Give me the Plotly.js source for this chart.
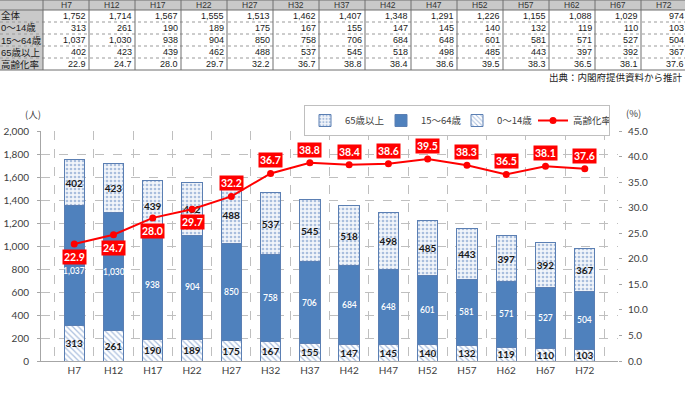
<!DOCTYPE html>
<html>
<head>
<meta charset="utf-8">
<script src="https://cdn.plot.ly/plotly-3.0.1.min.js"></script>
<style>
  html, body { margin: 0; padding: 0; background: #ffffff; }
  #chart { width: 685px; height: 398px; }
</style>
</head>
<body>
<div id="chart"></div>
<script>
// Population by age group (persons) and aging rate (%)
const years = ['H7', 'H12', 'H17', 'H22', 'H27', 'H32', 'H37', 'H42', 'H47', 'H52', 'H57', 'H62', 'H67', 'H72'];
const totals = [1752, 1714, 1567, 1555, 1513, 1462, 1407, 1348, 1291, 1226, 1155, 1088, 1029, 974];
const age0to14 = [313, 261, 190, 189, 175, 167, 155, 147, 145, 140, 132, 119, 110, 103];
const age15to64 = [1037, 1030, 938, 904, 850, 758, 706, 684, 648, 601, 581, 571, 527, 504];
const age65plus = [402, 423, 439, 462, 488, 537, 545, 518, 498, 485, 443, 397, 392, 367];
const agingRate = [22.9, 24.7, 28.0, 29.7, 32.2, 36.7, 38.8, 38.4, 38.6, 39.5, 38.3, 36.5, 38.1, 37.6];
const rowLabels = ['全体', '0～14歳', '15～64歳', '65歳以上', '高齢化率'];

const W = 685, H = 398;
const FONT = 'Lato, "Noto Sans CJK JP", sans-serif';
const JP = '"Noto Sans CJK JP", sans-serif';
const TF = '"Liberation Sans", "Noto Sans CJK JP", sans-serif';
const fmt = v => v.toLocaleString('en-US');
const px = x => x / W;          // pixel -> paper x
const py = y => (H - y) / H;    // pixel (from top) -> paper y

// ---- summary table drawn above the chart ----
const TBL = { labelW: 43, colW: 46, headerH: 10, rowH: 12, line: '#6e6e6e', fill: '#c9c9c9' };
const tblRows = [
  totals.map(fmt),
  age0to14.map(fmt),
  age15to64.map(fmt),
  age65plus.map(fmt),
  agingRate.map(v => v.toFixed(1))
];
const tblBottom = TBL.headerH + TBL.rowH * tblRows.length;
const colLeft = i => TBL.labelW + TBL.colW * i;

const tblShapes = [
  { type: 'rect', xref: 'paper', yref: 'paper', x0: 0, x1: 1, y0: py(TBL.headerH), y1: py(0),
    fillcolor: TBL.fill, line: { width: 0 }, layer: 'below' },
  { type: 'rect', xref: 'paper', yref: 'paper', x0: 0, x1: px(TBL.labelW), y0: py(tblBottom), y1: py(TBL.headerH),
    fillcolor: TBL.fill, line: { width: 0 }, layer: 'below' }
];
[0, TBL.headerH, tblBottom].forEach(y => tblShapes.push({
  type: 'line', xref: 'paper', yref: 'paper', x0: 0, x1: 1, y0: py(y), y1: py(y),
  line: { color: TBL.line, width: 1 }
}));
for (let r = 1; r < tblRows.length; r++) {
  const y = TBL.headerH + TBL.rowH * r;
  tblShapes.push({ type: 'line', xref: 'paper', yref: 'paper', x0: 0, x1: 1, y0: py(y), y1: py(y),
    line: { color: '#9a9a9a', width: 1, dash: 'dot' } });
}
for (let i = 0; i < years.length; i++) {
  const x = colLeft(i);
  tblShapes.push({ type: 'line', xref: 'paper', yref: 'paper', x0: px(x), x1: px(x), y0: py(tblBottom), y1: py(0),
    line: { color: TBL.line, width: 1 } });
}

const tblText = [];
years.forEach((yr, i) => tblText.push({
  text: yr, xref: 'paper', yref: 'paper', x: px(colLeft(i) + TBL.colW / 2), y: py(TBL.headerH / 2),
  xanchor: 'center', yanchor: 'middle', showarrow: false, borderpad: 0,
  font: { family: TF, size: 8.5, color: '#333333' }
}));
rowLabels.forEach((lab, r) => tblText.push({
  text: lab, xref: 'paper', yref: 'paper', x: 0, y: py(TBL.headerH + TBL.rowH * (r + 0.5)),
  xanchor: 'left', yanchor: 'middle', showarrow: false, borderpad: 0,
  font: { family: TF, size: 9.5, color: '#1a1a1a' }
}));
tblRows.forEach((row, r) => row.forEach((val, i) => tblText.push({
  text: val, xref: 'paper', yref: 'paper',
  x: px(colLeft(i) + TBL.colW - 2), y: py(TBL.headerH + TBL.rowH * (r + 0.5)),
  xanchor: 'right', yanchor: 'middle', showarrow: false, borderpad: 0,
  font: { family: TF, size: 9, color: '#1a1a1a' }
})));

// ---- chart traces ----
const barLine = { color: '#5b7fb3', width: 1 };
const darkLabel = { family: FONT, size: 10, color: '#1a1a1a', weight: 700 };

const young = {
  type: 'bar', name: '0～14歳', x: years, y: age0to14, legendrank: 3,
  marker: {
    color: '#ffffff', line: barLine,
    pattern: { shape: '\\', fgcolor: '#a9bede', bgcolor: '#ffffff', size: 4, solidity: 0.3 }
  },
  texttemplate: '%{y}', textposition: 'inside', insidetextanchor: 'middle', textangle: 0,
  constraintext: 'none', textfont: darkLabel, hoverinfo: 'skip'
};
const working = {
  type: 'bar', name: '15～64歳', x: years, y: age15to64, legendrank: 2,
  marker: { color: '#4f81bd', line: barLine },
  textposition: 'none', hoverinfo: 'skip'
};
const elderly = {
  type: 'bar', name: '65歳以上', x: years, y: age65plus, legendrank: 1,
  marker: {
    color: '#ffffff', line: barLine,
    pattern: { shape: '.', fgcolor: '#a9bedd', bgcolor: '#f2f5fa', size: 4, solidity: 0.35 }
  },
  texttemplate: '%{y}', textposition: 'inside', insidetextanchor: 'middle', textangle: 0,
  constraintext: 'none', textfont: darkLabel, hoverinfo: 'skip'
};
const rate = {
  type: 'scatter', mode: 'lines+markers', name: '高齢化率', x: years, y: agingRate,
  yaxis: 'y2', legendrank: 4,
  line: { color: '#ff0000', width: 2 },
  marker: { color: '#ff0000', size: 7 },
  hoverinfo: 'skip'
};

// white value labels in the middle of each 15～64 segment (the first one sits a little lower, clear of the rate box)
const workingLabels = age15to64.map((v, i) => ({
  x: years[i], y: age0to14[i] + v / 2, xref: 'x', yref: 'y',
  text: fmt(v), showarrow: false, borderpad: 0,
  yshift: i === 0 ? -6 : 0,
  font: { family: FONT, size: 8.5, color: '#ffffff', weight: 600 }
}));

// red value boxes on the aging-rate line (first four sit below the point)
const rateLabels = agingRate.map((v, i) => ({
  x: years[i], y: v, xref: 'x', yref: 'y2',
  text: v.toFixed(1), showarrow: false,
  yshift: i < 4 ? -13 : 13,
  bgcolor: '#ff0000', borderpad: 1,
  font: { family: FONT, size: 10.5, color: '#ffffff', weight: 700 }
}));

const notes = [
  { text: '出典：内閣府提供資料から推計', xref: 'paper', yref: 'paper', x: px(684), y: py(77),
    xanchor: 'right', yanchor: 'middle', showarrow: false, borderpad: 0,
    font: { family: JP, size: 9.5, color: '#222222' } },
  { text: '(人)', xref: 'paper', yref: 'paper', x: px(33), y: py(114),
    xanchor: 'center', yanchor: 'middle', showarrow: false,
    font: { family: JP, size: 9.5, color: '#404040' } },
  { text: '(%)', xref: 'paper', yref: 'paper', x: px(633), y: py(113),
    xanchor: 'center', yanchor: 'middle', showarrow: false,
    font: { family: JP, size: 9.5, color: '#404040' } }
];

const rateTicks = [0, 5, 10, 15, 20, 25, 30, 35, 40, 45];

const layout = {
  width: W, height: H,
  margin: { l: 0, r: 0, t: 0, b: 0 },
  paper_bgcolor: '#ffffff', plot_bgcolor: '#ffffff',
  barmode: 'stack', bargap: 0.48,
  showlegend: true,
  legend: {
    orientation: 'h', x: px(304), y: py(105), xanchor: 'left', yanchor: 'top',
    bordercolor: '#bfbfbf', borderwidth: 1, bgcolor: '#ffffff',
    traceorder: 'normal', entrywidth: 31, itemwidth: 30,
    font: { family: JP, size: 9.5, color: '#404040' }
  },
  xaxis: {
    type: 'category', domain: [px(41), px(618)], anchor: 'y',
    tickson: 'boundaries', ticks: '',
    showgrid: true, gridcolor: '#bfbfbf', griddash: 'dash', gridwidth: 1,
    showline: true, linecolor: '#a6a6a6', linewidth: 1,
    tickfont: { family: FONT, size: 10, color: '#404040' },
    automargin: false
  },
  yaxis: {
    domain: [py(361), py(131)], range: [0, 2000], dtick: 200,
    tickformat: ',', ticks: 'outside', ticklen: 3, tickcolor: '#a6a6a6',
    ticklabelstandoff: 6,
    showgrid: true, gridcolor: '#bfbfbf', griddash: 'dash', gridwidth: 1,
    showline: true, linecolor: '#a6a6a6', linewidth: 1, zeroline: false,
    tickfont: { family: FONT, size: 10, color: '#404040' },
    automargin: false
  },
  yaxis2: {
    overlaying: 'y', side: 'right', anchor: 'x', range: [0, 45],
    tickmode: 'array', tickvals: rateTicks, ticktext: rateTicks.map(v => v.toFixed(1)),
    ticks: 'outside', ticklen: 3, tickcolor: '#a6a6a6',
    ticklabelstandoff: 4,
    showgrid: false, showline: false, zeroline: false,
    tickfont: { family: FONT, size: 10, color: '#404040' },
    automargin: false
  },
  shapes: tblShapes,
  annotations: tblText.concat(workingLabels, rateLabels, notes)
};

Plotly.newPlot('chart', [young, working, elderly, rate], layout, { displayModeBar: false, staticPlot: true });
</script>
</body>
</html>
